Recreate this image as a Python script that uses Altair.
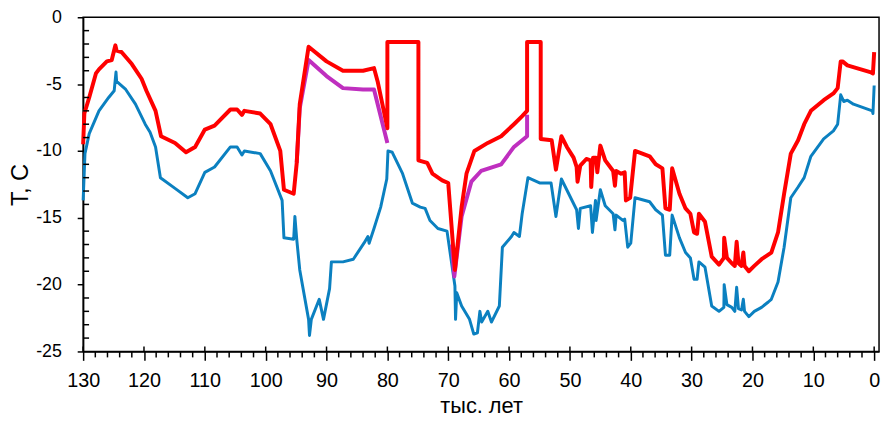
import altair as alt
import pandas as pd

# ---- data ----
red_t = [130.0, 129.8, 129.0, 127.9, 127.4, 126.1, 125.3, 124.7, 124.5, 123.7, 122.0, 120.4, 119.6, 118.1, 117.2,
         114.9, 113.1, 111.6, 110.0, 108.4, 105.8, 104.7, 103.9, 103.5, 100.9, 99.2, 97.6, 97.0, 95.4, 94.9, 94.4,
         92.95, 90.0, 87.3, 84.0, 82.2, 81.6, 80.0, 80.0, 74.9, 74.9, 73.45, 72.6, 71.0, 70.0, 68.9, 67.8, 67.0,
         65.7, 63.5, 61.3, 59.2, 57.85, 57.04, 57.04, 54.8, 54.8, 53.0, 52.3, 51.4, 50.5, 49.4, 48.9, 48.75, 48.3,
         47.3, 46.6, 46.5, 46.2, 45.7, 45.5, 45.0, 44.2, 42.9, 42.6, 42.4, 41.6, 41.0, 40.8, 40.1, 39.3, 36.9,
         35.9, 34.8, 34.3, 33.6, 33.2, 32.0, 31.0, 30.2, 29.6, 29.1, 28.8, 27.8, 26.7, 25.5, 24.7, 24.65, 24.2,
         23.4, 22.9, 22.6, 22.3, 21.8, 21.5, 21.3, 20.6, 19.7, 18.5, 16.9, 15.8, 14.8, 13.7, 12.5, 11.5, 10.4,
         8.3, 6.7, 6.0, 5.5, 5.2, 4.4, 0.65, 0.2, 0.0]
red_T = [-9.5, -7.2, -6.0, -4.2, -3.9, -3.3, -3.2, -2.1, -2.5, -2.6, -3.5, -4.6, -5.5, -7.0, -8.9,
         -9.4, -10.1, -9.7, -8.4, -8.1, -6.9, -6.9, -7.3, -7.0, -7.2, -8.0, -10.0, -12.9, -13.2, -10.9, -6.5,
         -2.2, -3.3, -4.0, -4.0, -3.8, -4.8, -8.3, -1.85, -1.85, -10.7, -10.9, -11.7, -12.2, -12.4, -18.9, -14.2, -11.7,
         -10.0, -9.4, -8.9, -8.0, -7.4, -7.0, -1.85, -1.85, -9.1, -9.2, -11.4, -8.9, -9.7, -10.5, -11.2, -12.3, -11.1,
         -10.6, -10.7, -12.7, -10.5, -10.5, -11.6, -9.6, -10.7, -11.5, -12.6, -11.5, -11.7, -11.6, -13.7, -13.5, -10.0, -10.4,
         -11.0, -11.3, -14.3, -14.4, -11.3, -13.2, -14.3, -14.7, -16.1, -16.2, -14.7, -15.3, -17.9, -18.5, -18.0, -16.5, -18.0,
         -18.4, -18.6, -16.8, -18.4, -18.6, -17.6, -18.6, -19.0, -18.6, -18.1, -17.6, -16.1, -13.2, -10.2, -9.2, -8.0, -7.0,
         -6.2, -5.7, -5.3, -3.3, -3.3, -3.6, -4.1, -4.2, -2.6]

purple_seg = ["a"] * 8 + ["b"] * 9
purple_t = [94.9, 94.4, 92.95, 90.0, 87.3, 84.0, 82.2, 80.0,
            69.4, 69.0, 67.8, 66.2, 64.6, 61.3, 59.2, 57.04, 57.04]
purple_T = [-10.9, -6.8, -3.2, -4.4, -5.3, -5.4, -5.4, -9.4,
            -17.0, -19.4, -14.9, -12.3, -11.5, -11.0, -9.7, -8.9, -7.3]

blue_t = [130.0, 129.7, 129.0, 127.4, 125.8, 124.9, 124.6, 124.5, 123.0, 121.4, 119.8, 119.0, 118.1, 117.3,
          114.9, 112.8, 111.6, 110.0, 108.4, 105.8, 104.7, 103.9, 103.5, 100.9, 99.2, 97.3, 97.0, 95.4, 95.2,
          94.9, 94.4, 92.95, 92.8, 92.5, 91.2, 90.5, 89.5, 89.2, 87.3, 85.6, 83.85, 83.2, 83.0, 82.2, 81.1,
          80.1, 79.9, 79.2, 77.5, 75.9, 74.6, 73.8, 73.0, 71.7, 70.2, 68.9, 68.8, 68.6, 67.8, 66.5, 65.8,
          65.2, 64.8, 64.5, 63.5, 62.9, 61.6, 61.1, 59.6, 59.2, 58.3, 57.85, 56.9, 54.9, 53.1, 52.3, 51.4,
          48.9, 48.6, 48.3, 46.6, 46.3, 45.8, 45.7, 45.0, 44.2, 42.9, 42.6, 42.4, 41.3, 41.0, 40.5, 40.0,
          39.3, 36.9, 35.9, 34.8, 34.3, 33.6, 33.2, 32.0, 31.0, 30.2, 29.6, 29.1, 28.8, 27.8, 26.7, 25.5,
          24.7, 24.65, 24.2, 23.4, 22.9, 22.6, 22.3, 21.8, 21.5, 21.3, 20.6, 19.7, 18.5, 17.4, 16.9, 15.8,
          14.8, 13.7, 12.5, 11.5, 10.4, 8.3, 6.7, 6.0, 5.5, 5.0, 4.4, 3.4, 0.3, 0.2, 0.0]
blue_T = [-13.7, -10.2, -8.7, -7.0, -6.0, -5.5, -4.1, -4.8, -5.4, -6.5, -8.0, -8.6, -9.7, -12.0,
          -12.8, -13.5, -13.2, -11.6, -11.2, -9.7, -9.7, -10.3, -10.0, -10.2, -11.5, -13.7, -16.5, -16.6, -14.9,
          -16.6, -18.9, -22.6, -23.8, -22.6, -21.1, -22.6, -20.3, -18.3, -18.3, -18.1, -16.9, -16.4, -16.9, -15.8, -14.2,
          -12.1, -10.0, -10.1, -11.7, -13.9, -14.2, -14.3, -15.2, -15.8, -16.0, -20.1, -22.6, -20.6, -21.6, -22.6, -23.7,
          -23.6, -22.0, -22.8, -22.0, -22.8, -21.6, -17.2, -16.4, -16.1, -16.4, -14.7, -12.0, -12.4, -12.4, -14.9, -12.1,
          -14.4, -15.8, -14.3, -14.1, -16.1, -13.7, -15.2, -12.9, -14.1, -14.7, -15.9, -14.8, -15.2, -15.1, -17.2, -16.9,
          -13.5, -13.8, -14.4, -14.8, -17.8, -17.8, -14.8, -16.5, -17.6, -18.0, -19.6, -19.6, -18.3, -18.7, -21.6, -22.0,
          -21.7, -20.0, -21.5, -21.7, -22.0, -20.2, -21.8, -21.9, -21.1, -22.0, -22.4, -22.0, -21.7, -21.3, -21.1, -19.8,
          -17.2, -13.5, -12.7, -12.0, -10.4, -9.1, -8.5, -8.0, -5.8, -6.3, -6.2, -6.5, -7.0, -7.2, -5.1]

x_major = [130, 120, 110, 100, 90, 80, 70, 60, 50, 40, 30, 20, 10, 0]
x_minor = [v for v in range(2, 130, 2) if v % 10 != 0]
y_major = [0, -5, -10, -15, -20, -25]
y_minor = [-v for v in range(1, 25) if v % 5 != 0]

# ---- tables ----
rows = []
for i, (t, v) in enumerate(zip(blue_t, blue_T)):
    rows.append({"t": t, "T": v, "s": "blue", "seg": "b0", "i": i})
for i, (t, v, g) in enumerate(zip(purple_t, purple_T, purple_seg)):
    rows.append({"t": t, "T": v, "s": "purple", "seg": "p" + g, "i": i})
for i, (t, v) in enumerate(zip(red_t, red_T)):
    rows.append({"t": t, "T": v, "s": "red", "seg": "r0", "i": i})
df = pd.DataFrame(rows)

FONT = "Liberation Sans"
xscale = alt.Scale(domain=[130, -0.8], nice=False, zero=False)
yscale = alt.Scale(domain=[-25, 0], nice=False, zero=False)

X = alt.X("t:Q", scale=xscale, axis=alt.Axis(
    values=x_major, title="тыс. лет", grid=False, tickSize=9, tickWidth=1.5, tickColor="black",
    domainColor="black", domainWidth=1.5, labelFont=FONT, labelFontSize=20, labelColor="black",
    labelPadding=10, titleFont=FONT, titleFontSize=22, titleFontWeight="normal", titleColor="black",
    titlePadding=6, labelFlush=False, labelOverlap=False))
Y = alt.Y("T:Q", scale=yscale, axis=alt.Axis(
    values=y_major, title="T, C", grid=False, tickSize=6, tickWidth=1.5, tickColor="black",
    domainColor="black", domainWidth=1.5, labelFont=FONT, labelFontSize=18, labelColor="black",
    labelPadding=16, labelExpr="'' + datum.value", titleFont=FONT, titleFontSize=24,
    titleFontWeight="normal", titleColor="black", titlePadding=3, labelFlush=False, labelOverlap=False))

base = alt.Chart(df).encode(x=X, y=Y, detail="seg:N", order="i:Q")
blue = base.transform_filter("datum.s == 'blue'").mark_line(color="#0B80C0", strokeWidth=3, strokeJoin="round")
purple = base.transform_filter("datum.s == 'purple'").mark_line(color="#BF2FBF", strokeWidth=4, strokeJoin="round")
red = base.transform_filter("datum.s == 'red'").mark_line(color="#FF0000", strokeWidth=4, strokeJoin="round")

xminor_df = pd.DataFrame({"t": x_minor})
xmajor_df = pd.DataFrame({"t": x_major})
yminor_df = pd.DataFrame({"T": y_minor})

xminor = alt.Chart(xminor_df).mark_rule(color="black", strokeWidth=1.5).encode(
    x=X, y=alt.value(338), y2=alt.value(344))
xmaj_in = alt.Chart(xmajor_df).mark_rule(color="black", strokeWidth=1.5).encode(
    x=X, y=alt.value(333), y2=alt.value(338))
yminor = alt.Chart(yminor_df).mark_rule(color="black", strokeWidth=1.5).encode(
    y=Y, x=alt.value(0), x2=alt.value(6))

chart = alt.layer(blue, purple, red, xminor, xmaj_in, yminor).properties(
    width=805, height=338,
    autosize=alt.AutoSizeParams(type="none"),
    padding={"left": 76, "top": 7, "right": 3, "bottom": 71},
    background="white",
).configure_view(stroke="black", strokeWidth=1.5)

chart.save("out.html", embed_options={"renderer": "svg", "actions": False})
